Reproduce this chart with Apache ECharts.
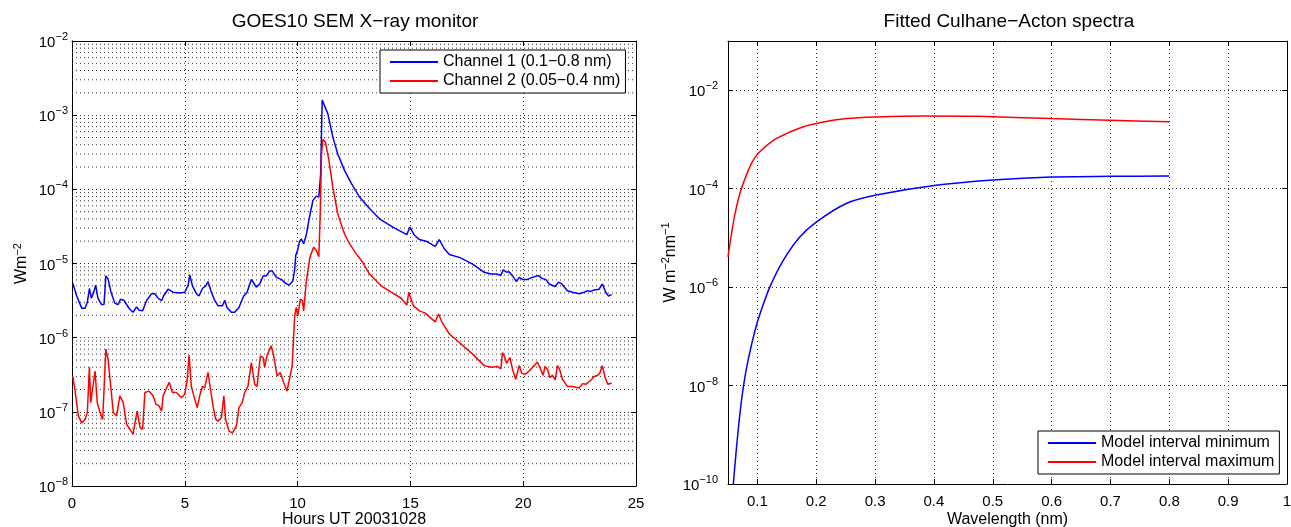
<!DOCTYPE html>
<html><head><meta charset="utf-8">
<script src="https://cdn.jsdelivr.net/npm/echarts@6/dist/echarts.min.js"></script>
<style>html,body{margin:0;padding:0;background:#fff}#c{width:1291px;height:527px}</style>
</head><body><div id="c"></div>
<script>
// ---- Left chart: GOES10 SEM X-ray monitor ----
const ch1Hours = [0.03,0.2,0.43,0.58,0.68,0.77,0.86,0.94,1.05,1.15,1.31,1.42,1.5,1.6,1.73,1.9,2.05,2.15,2.3,2.42,2.57,2.71,2.86,2.98,3.13,3.3,3.52,3.67,3.82,3.97,4.07,4.26,4.48,4.78,5.0,5.15,5.22,5.34,5.52,5.63,5.78,5.93,6.03,6.18,6.33,6.47,6.67,6.77,6.87,7.06,7.21,7.4,7.61,7.76,7.95,8.05,8.17,8.32,8.47,8.61,8.76,8.88,9.06,9.28,9.47,9.62,9.79,9.87,9.92,10.01,10.09,10.16,10.27,10.38,10.53,10.68,10.83,10.94,11.02,11.09,11.15,11.34,11.56,11.78,12.08,12.38,12.74,13.19,13.63,14.22,14.84,14.98,15.18,15.4,15.69,16.1,16.28,16.5,16.73,17.2,17.76,18.27,18.57,18.86,19.0,19.12,19.24,19.38,19.53,19.7,19.82,19.97,20.19,20.4,20.68,20.83,21.0,21.15,21.42,21.56,21.71,21.96,22.18,22.48,22.7,22.85,23.0,23.14,23.36,23.51,23.66,23.78,23.92];
const ch1Flux = [5.5e-6,3.7e-6,2.5e-6,2.5e-6,3.0e-6,4.6e-6,3.4e-6,3.9e-6,5.1e-6,3.4e-6,2.8e-6,2.8e-6,6.8e-6,6.2e-6,4.1e-6,2.9e-6,2.8e-6,3.3e-6,3.2e-6,2.8e-6,2.4e-6,2.2e-6,2.6e-6,2.35e-6,2.3e-6,3.15e-6,3.9e-6,3.9e-6,3.4e-6,3.15e-6,3.7e-6,4.5e-6,4.1e-6,4.0e-6,4.1e-6,5.1e-6,7.0e-6,5.0e-6,3.9e-6,3.65e-6,4.6e-6,5.0e-6,5.7e-6,4.1e-6,3.15e-6,2.7e-6,2.7e-6,3.2e-6,2.55e-6,2.2e-6,2.2e-6,2.55e-6,3.65e-6,4.1e-6,6.1e-6,5.5e-6,4.8e-6,5.3e-6,6.8e-6,6.8e-6,7.9e-6,7.9e-6,6.5e-6,6.1e-6,5.4e-6,5.1e-6,5.8e-6,8.3e-6,1.29e-5,1.55e-5,2.0e-5,2.15e-5,1.85e-5,2.4e-5,4.3e-5,7.1e-5,8.1e-5,7.9e-5,1.6e-4,1.6e-3,1.7e-3,1.05e-3,5.1e-4,3.0e-4,1.8e-4,1.2e-4,7.9e-5,5.5e-5,4.0e-5,3.1e-5,2.45e-5,3.1e-5,2.4e-5,2.1e-5,2.0e-5,1.7e-5,2.1e-5,1.58e-5,1.32e-5,1.2e-5,9.8e-6,7.6e-6,7.2e-6,7.2e-6,6.9e-6,8.2e-6,7.7e-6,7.7e-6,6.8e-6,5.7e-6,6.5e-6,6.1e-6,6.1e-6,6.5e-6,6.9e-6,6.3e-6,6.1e-6,5.3e-6,4.9e-6,5.6e-6,5.3e-6,4.3e-6,4.1e-6,3.9e-6,4.1e-6,4.3e-6,4.2e-6,4.4e-6,4.5e-6,5.3e-6,4.1e-6,3.65e-6,3.8e-6];
const ch2Hours = [0.03,0.13,0.28,0.43,0.58,0.68,0.77,0.83,0.91,1.02,1.12,1.24,1.36,1.5,1.6,1.73,1.83,1.98,2.12,2.27,2.42,2.57,2.71,2.79,2.89,3.01,3.13,3.23,3.42,3.6,3.72,3.86,3.97,4.04,4.16,4.31,4.45,4.63,4.85,5.0,5.1,5.19,5.29,5.4,5.55,5.66,5.78,5.88,6.03,6.14,6.25,6.37,6.47,6.62,6.73,6.81,6.96,7.11,7.29,7.4,7.55,7.65,7.8,7.95,8.1,8.2,8.35,8.47,8.54,8.64,8.83,8.94,9.09,9.23,9.38,9.53,9.62,9.76,9.87,9.94,10.01,10.12,10.21,10.27,10.38,10.53,10.6,10.71,10.83,10.94,11.0,11.06,11.12,11.23,11.39,11.56,11.78,12.08,12.3,12.6,12.89,13.19,13.7,14.15,14.59,14.84,14.93,14.99,15.13,15.4,15.66,16.1,16.25,16.4,16.73,17.17,17.76,18.27,18.57,18.86,19.01,19.08,19.19,19.26,19.41,19.53,19.67,19.82,19.94,20.09,20.24,20.49,20.63,20.78,20.88,20.97,21.08,21.18,21.3,21.42,21.52,21.62,21.74,21.96,22.18,22.48,22.63,22.77,22.89,23.04,23.14,23.29,23.41,23.51,23.63,23.75,23.92];
const ch2Flux = [3.05e-7,2.0e-7,8.8e-8,7.1e-8,7.9e-8,9.8e-8,4.0e-7,1.33e-7,2.0e-7,3.55e-7,1.33e-7,9.8e-8,7.9e-8,7.0e-7,5.1e-7,2.0e-7,9.8e-8,8.8e-8,1.64e-7,1.33e-7,6.8e-8,5.8e-8,5.0e-8,7.1e-8,1.02e-7,6.2e-8,5.8e-8,1.82e-7,1.9e-7,1.64e-7,1.27e-7,1.2e-7,1.02e-7,1.64e-7,2.0e-7,2.5e-7,1.82e-7,1.82e-7,1.55e-7,1.73e-7,2.6e-7,5.8e-7,2.2e-7,1.64e-7,1.14e-7,1.64e-7,2.2e-7,2.1e-7,3.4e-7,2.0e-7,1.2e-7,7.9e-8,7.5e-8,8.3e-8,1.64e-7,7.9e-8,5.5e-8,5.2e-8,6.5e-8,1.14e-7,1.33e-7,1.82e-7,2.2e-7,4.6e-7,2.35e-7,2.2e-7,5.7e-7,5.4e-7,4.0e-7,5.7e-7,7.8e-7,5.7e-7,3.05e-7,3.4e-7,2.5e-7,1.9e-7,2.6e-7,4.2e-7,1.97e-6,2.55e-6,1.97e-6,3.3e-6,3.15e-6,2.3e-6,5.5e-6,1.14e-5,1.35e-5,1.66e-5,1.5e-5,1.23e-5,4.3e-5,3.0e-4,4.7e-4,4.35e-4,2.45e-4,1.07e-4,4.7e-5,2.5e-5,1.85e-5,1.35e-5,1.03e-5,7.2e-6,5.0e-6,4.1e-6,3.4e-6,2.75e-6,4.1e-6,4.1e-6,2.7e-6,2.3e-6,2.14e-6,1.63e-6,2.08e-6,1.61e-6,1.12e-6,8.6e-7,6.0e-7,4.2e-7,4.0e-7,4.1e-7,3.8e-7,6.3e-7,5.4e-7,4.5e-7,5.4e-7,3.7e-7,2.75e-7,4.2e-7,3.3e-7,3.2e-7,3.5e-7,4.2e-7,4.7e-7,3.7e-7,3.1e-7,4.1e-7,3.7e-7,2.9e-7,3.1e-7,2.7e-7,4.2e-7,3.7e-7,2.75e-7,2.2e-7,2.2e-7,2.1e-7,2.4e-7,2.35e-7,2.5e-7,2.75e-7,3.0e-7,3.1e-7,3.4e-7,4.2e-7,2.9e-7,2.35e-7,2.45e-7];
const hourTicks = [0, 25, 5];          // min, max, step
const fluxDecades = [-8, -2];          // 10^-8 .. 10^-2

// ---- Right chart: Fitted Culhane-Acton spectra ----
const wlMin = [0.059,0.0635,0.069,0.076,0.084,0.096,0.105,0.121,0.144,0.172,0.2,0.251,0.302,0.403,0.5,0.6,0.7,0.8];
const specMin = [1e-10,4.1e-10,1.95e-9,9.3e-9,3.2e-8,1.33e-7,3.0e-7,1.0e-6,3.5e-6,1.04e-5,2.1e-5,5.0e-5,7.4e-5,1.17e-4,1.5e-4,1.73e-4,1.78e-4,1.8e-4];
const wlMax = [0.05,0.056,0.062,0.07,0.082,0.093,0.104,0.127,0.149,0.177,0.206,0.251,0.302,0.386,0.476,0.6,0.7,0.8];
const specMax = [4.1e-6,1.23e-5,3.1e-5,7.9e-5,2.0e-4,3.8e-4,5.6e-4,9.6e-4,1.31e-3,1.79e-3,2.18e-3,2.65e-3,2.87e-3,3.0e-3,2.95e-3,2.65e-3,2.45e-3,2.28e-3];

const names = ['Channel 1 (0.1−0.8 nm)','Channel 2 (0.05−0.4 nm)','Model interval minimum','Model interval maximum'];

const FONT = '"Liberation Sans", Arial, Helvetica, sans-serif';
const pairs = (xs, ys) => xs.map((x, i) => [x, ys[i]]);

// minor log grid lines (2..9 x 10^n) for the left chart, drawn as broken segments
const minorVals = [];
for (let e = fluxDecades[0]; e < fluxDecades[1]; e++) for (let k = 2; k <= 9; k++) minorVals.push(k * Math.pow(10, e));
const minorGridData = [];
minorVals.forEach(v => { minorGridData.push([hourTicks[0], v], [hourTicks[1], v], ['-', '-']); });

const supRich = {
  b: {fontSize: 15, fontFamily: FONT, color: '#000', verticalAlign: 'bottom'},
  s: {fontSize: 11, fontFamily: FONT, color: '#000', verticalAlign: 'bottom', padding: [0, 0, 8, 0]}
};
const powLabel = v => { const e = Math.round(Math.log10(v)); return '{b|10}{s|' + (e < 0 ? '−' : '') + Math.abs(e) + '}'; };
const dotted = {show: true, lineStyle: {color: '#333', width: 1, type: [1, 3]}};
const axLine = {show: true, onZero: false, lineStyle: {color: '#000', width: 1}};
const tickIn = {show: true, inside: true, length: 5, lineStyle: {color: '#000'}};
const lbl = {color: '#000', fontSize: 15, fontFamily: FONT};
const nameStyle = {color: '#000', fontSize: 16, fontFamily: FONT};
const yNameStyle = {fontSize: 16, fontFamily: FONT, color: '#000',
  rich: {s: {fontSize: 11, fontFamily: FONT, color: '#000', verticalAlign: 'bottom', padding: [0, 0, 9, 0]}}};
const legendCommon = {orient: 'vertical', icon: 'rect', itemWidth: 48, itemHeight: 2, itemGap: 3,
  borderColor: '#000', borderWidth: 1, borderRadius: 0, backgroundColor: '#fff',
  textStyle: {fontSize: 16, fontFamily: FONT, color: '#000'}, selectedMode: false};

const option = {
  animation: false,
  backgroundColor: '#fff',
  grid: [
    {left: 72, top: 41, width: 564, height: 445, outerBoundsMode: 'none', containLabel: false},
    {left: 728, top: 41, width: 559, height: 443, outerBoundsMode: 'none', containLabel: false}
  ],
  xAxis: [
    {gridIndex: 0, type: 'value', min: hourTicks[0], max: hourTicks[1], interval: hourTicks[2], position: 'bottom',
     axisLine: axLine, axisTick: tickIn, splitLine: dotted, axisLabel: Object.assign({margin: 10}, lbl),
     name: 'Hours UT 20031028', nameLocation: 'middle', nameGap: 26, nameMoveOverlap: false, nameTextStyle: nameStyle},
    {gridIndex: 0, type: 'value', min: hourTicks[0], max: hourTicks[1], interval: hourTicks[2], position: 'top',
     axisLine: axLine, axisTick: tickIn, splitLine: {show: false}, axisLabel: {show: false}},
    {gridIndex: 1, type: 'value', min: 0.05, max: 1, splitNumber: 10, position: 'bottom',
     axisLine: axLine, axisTick: tickIn, splitLine: dotted,
     axisLabel: Object.assign({margin: 10, showMinLabel: false, formatter: v => (Math.round(v * 10) / 10).toString()}, lbl),
     name: 'Wavelength (nm)', nameLocation: 'middle', nameGap: 28, nameMoveOverlap: false, nameTextStyle: nameStyle},
    {gridIndex: 1, type: 'value', min: 0.05, max: 1, splitNumber: 10, position: 'top',
     axisLine: axLine, axisTick: tickIn, splitLine: {show: false}, axisLabel: {show: false}}
  ],
  yAxis: [
    {gridIndex: 0, type: 'log', logBase: 10, min: Math.pow(10, fluxDecades[0]), max: Math.pow(10, fluxDecades[1]), position: 'left',
     axisLine: axLine, axisTick: tickIn, splitLine: dotted,
     axisLabel: {margin: 4, formatter: powLabel, rich: supRich},
     name: 'Wm{s|−2}', nameLocation: 'middle', nameGap: 40, nameRotate: 90, nameTextStyle: yNameStyle},
    {gridIndex: 0, type: 'log', logBase: 10, min: Math.pow(10, fluxDecades[0]), max: Math.pow(10, fluxDecades[1]), position: 'right',
     axisLine: axLine, axisTick: tickIn, splitLine: {show: false}, axisLabel: {show: false}},
    {gridIndex: 1, type: 'log', logBase: 100, min: 1e-10, max: 1e-1, splitNumber: 4, position: 'left',
     axisLine: axLine, axisTick: tickIn, splitLine: dotted,
     axisLabel: {margin: 10, showMaxLabel: false, formatter: powLabel, rich: supRich},
     name: 'W m{s|−2}nm{s|−1}', nameLocation: 'middle', nameGap: 46, nameRotate: 90, nameTextStyle: yNameStyle},
    {gridIndex: 1, type: 'log', logBase: 100, min: 1e-10, max: 1e-1, splitNumber: 4, position: 'right',
     axisLine: axLine, axisTick: tickIn, splitLine: {show: false}, axisLabel: {show: false}}
  ],
  legend: [
    Object.assign({data: [names[0], names[1]], left: 380, top: 50, padding: [4, 5, 4, 10]}, legendCommon),
    Object.assign({data: [names[2], names[3]], left: 1038, top: 431, padding: [4, 5, 4, 10]}, legendCommon)
  ],
  graphic: [
    {type: 'text', x: 355, y: 22, style: {text: 'GOES10 SEM X−ray monitor', font: '19px ' + FONT, fill: '#000', textAlign: 'center', textVerticalAlign: 'middle'}},
    {type: 'text', x: 1009, y: 22, style: {text: 'Fitted Culhane−Acton spectra', font: '19px ' + FONT, fill: '#000', textAlign: 'center', textVerticalAlign: 'middle'}}
  ],
  series: [
    {name: 'minor grid', type: 'line', xAxisIndex: 0, yAxisIndex: 0, data: minorGridData, showSymbol: false, symbol: 'none',
     connectNulls: false, silent: true, z: 1, lineStyle: {color: '#333', width: 1, type: [1, 3]}, emphasis: {disabled: true}},
    {name: names[0], type: 'line', xAxisIndex: 0, yAxisIndex: 0, data: pairs(ch1Hours, ch1Flux), showSymbol: false, symbol: 'none',
     lineStyle: {color: '#0000ff', width: 1.5}, itemStyle: {color: '#0000ff'}, z: 3},
    {name: names[1], type: 'line', xAxisIndex: 0, yAxisIndex: 0, data: pairs(ch2Hours, ch2Flux), showSymbol: false, symbol: 'none',
     lineStyle: {color: '#ff0000', width: 1.5}, itemStyle: {color: '#ff0000'}, z: 3},
    {name: names[2], type: 'line', xAxisIndex: 2, yAxisIndex: 2, data: pairs(wlMin, specMin), showSymbol: false, symbol: 'none', smooth: 0.3,
     lineStyle: {color: '#0000ff', width: 1.5}, itemStyle: {color: '#0000ff'}},
    {name: names[3], type: 'line', xAxisIndex: 2, yAxisIndex: 2, data: pairs(wlMax, specMax), showSymbol: false, symbol: 'none', smooth: 0.3,
     lineStyle: {color: '#ff0000', width: 1.5}, itemStyle: {color: '#ff0000'}}
  ]
};
const chart = echarts.init(document.getElementById('c'), null, {renderer: 'canvas'});
chart.setOption(option);
</script></body></html>
